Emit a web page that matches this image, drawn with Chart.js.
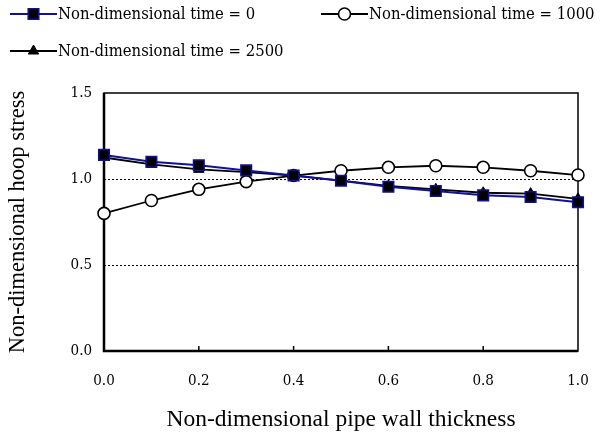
<!DOCTYPE html>
<html>
<head>
<meta charset="utf-8">
<script src="https://cdn.jsdelivr.net/npm/chart.js@4.4.0/dist/chart.umd.min.js"></script>
<style>
  html, body { margin: 0; padding: 0; background: #fff; }
</style>
</head>
<body>
<canvas id="hoop-stress" width="602" height="439"></canvas>
<script>
// wall positions and hoop stress for each time step
const thickness = [0, 0.1, 0.2, 0.3, 0.4, 0.5, 0.6, 0.7, 0.8, 0.9, 1.0];
const stressTime0 = [1.14, 1.10, 1.08, 1.05, 1.02, 0.99, 0.955, 0.93, 0.905, 0.895, 0.865];
const stressTime1000 = [0.80, 0.875, 0.94, 0.985, 1.02, 1.048, 1.068, 1.077, 1.068, 1.048, 1.023];
const stressTime2500 = [1.125, 1.085, 1.056, 1.04, 1.02, 0.99, 0.96, 0.94, 0.92, 0.915, 0.885];
const seriesLabels = [
  'Non-dimensional time = 0',
  'Non-dimensional time = 1000',
  'Non-dimensional time = 2500',
];
const xTicks = [0, 0.2, 0.4, 0.6, 0.8, 1.0];
const yTicks = [0, 0.5, 1.0, 1.5];

const SERIF = "'Liberation Serif', 'Times New Roman', serif";
const NARROW_SERIF = "'DejaVu Serif Condensed', 'DejaVu Serif', serif";
const NAVY = '#10109a';

const toPoints = (values) => values.map((v, i) => ({ x: thickness[i], y: v }));

const datasets = [
  {
    label: seriesLabels[0],
    data: toPoints(stressTime0),
    borderColor: NAVY,
    borderWidth: 2,
    pointStyle: 'rect',
    pointRadius: 7.5,
    pointBackgroundColor: '#000',
    pointBorderColor: NAVY,
    pointBorderWidth: 1.5,
  },
  {
    label: seriesLabels[1],
    data: toPoints(stressTime1000),
    borderColor: '#000',
    borderWidth: 1.8,
    pointStyle: 'circle',
    pointRadius: 6,
    pointBackgroundColor: '#fff',
    pointBorderColor: '#000',
    pointBorderWidth: 1.6,
  },
  {
    label: seriesLabels[2],
    data: toPoints(stressTime2500),
    borderColor: '#000',
    borderWidth: 1.8,
    pointStyle: 'triangle',
    pointRadius: 6,
    pointBackgroundColor: '#000',
    pointBorderColor: '#000',
    pointBorderWidth: 1,
  },
].map((ds) => ({ ...ds, fill: false, tension: 0, clip: false }));

// axis frame: heavy left/bottom, thin top/right, short inward x ticks
const framePlugin = {
  id: 'frame',
  beforeDatasetsDraw(chart) {
    const { ctx, chartArea: a, scales } = chart;
    ctx.save();
    ctx.strokeStyle = '#000';
    ctx.lineWidth = 1.5;
    ctx.strokeRect(a.left, a.top, a.width, a.height);
    ctx.lineWidth = 2.5;
    ctx.beginPath();
    ctx.moveTo(a.left, a.top);
    ctx.lineTo(a.left, a.bottom);
    ctx.lineTo(a.right, a.bottom);
    ctx.stroke();
    ctx.lineWidth = 1.5;
    ctx.beginPath();
    xTicks.slice(1, -1).forEach((v) => {
      const px = scales.x.getPixelForValue(v);
      ctx.moveTo(px, a.bottom);
      ctx.lineTo(px, a.bottom - 5);
    });
    ctx.stroke();
    ctx.restore();
  },
};

// legend with a line segment and the marker in its middle
const legendSlots = [
  { x: 10, y: 14 },
  { x: 321, y: 14 },
  { x: 10, y: 51 },
];

const lineLegendPlugin = {
  id: 'lineLegend',
  afterDraw(chart) {
    const { ctx } = chart;
    ctx.save();
    chart.data.datasets.forEach((ds, i) => {
      const { x, y } = legendSlots[i];
      ctx.strokeStyle = ds.borderColor;
      ctx.lineWidth = ds.borderWidth;
      ctx.beginPath();
      ctx.moveTo(x, y);
      ctx.lineTo(x + 47, y);
      ctx.stroke();
      ctx.fillStyle = ds.pointBackgroundColor;
      ctx.strokeStyle = ds.pointBorderColor;
      ctx.lineWidth = ds.pointBorderWidth;
      Chart.helpers.drawPoint(ctx, {
        pointStyle: ds.pointStyle,
        radius: ds.pointRadius,
        rotation: 0,
        borderWidth: ds.pointBorderWidth,
      }, x + 23.5, y);
      ctx.fillStyle = '#000';
      ctx.font = `16.5px ${NARROW_SERIF}`;
      ctx.textBaseline = 'middle';
      ctx.textAlign = 'left';
      ctx.fillText(ds.label, x + 48, y + 1);
    });
    ctx.restore();
  },
};

new Chart(document.getElementById('hoop-stress'), {
  type: 'line',
  data: { datasets },
  plugins: [framePlugin, lineLegendPlugin],
  options: {
    responsive: false,
    devicePixelRatio: 1,
    animation: false,
    layout: { padding: { top: 93, right: 24, left: 0, bottom: 0 } },
    plugins: {
      legend: { display: false },
      tooltip: { enabled: false },
    },
    scales: {
      x: {
        type: 'linear',
        min: 0,
        max: 1,
        afterFit: (scale) => { scale.height = 88; },
        afterBuildTicks: (scale) => { scale.ticks = xTicks.map((value) => ({ value })); },
        grid: { display: false },
        border: { display: false },
        ticks: {
          color: '#000',
          font: { family: NARROW_SERIF, size: 15 },
          padding: 13,
          maxRotation: 0,
          callback: (v) => v.toFixed(1),
        },
        title: {
          display: true,
          text: 'Non-dimensional pipe wall thickness',
          color: '#000',
          font: { family: SERIF, size: 23.5 },
          padding: { top: 0, bottom: 5 },
        },
      },
      y: {
        min: 0,
        max: 1.5,
        afterFit: (scale) => { scale.width = 104; },
        afterBuildTicks: (scale) => { scale.ticks = yTicks.map((value) => ({ value })); },
        grid: {
          drawTicks: false,
          lineWidth: 1,
          color: (c) => (c.tick && (c.tick.value === 0.5 || c.tick.value === 1)) ? '#000' : 'rgba(0,0,0,0)',
        },
        border: { display: false, dash: [2, 2] },
        ticks: {
          color: '#000',
          font: { family: NARROW_SERIF, size: 15 },
          padding: 12,
          callback: (v) => v.toFixed(1),
        },
        title: {
          display: true,
          text: 'Non-dimensional hoop stress',
          color: '#000',
          font: { family: SERIF, size: 22.5 },
          padding: { top: 5, bottom: 0 },
        },
      },
    },
  },
});
</script>
</body>
</html>
